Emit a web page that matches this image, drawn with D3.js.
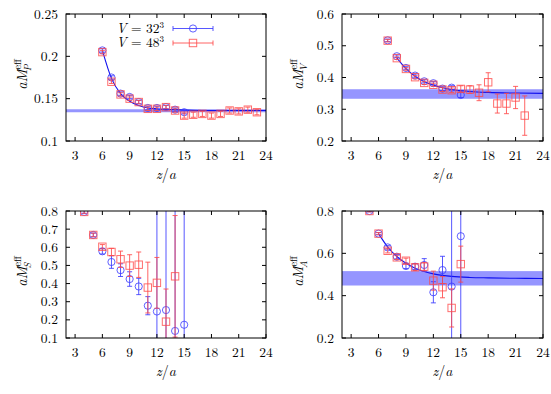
<!DOCTYPE html>
<html>
<head>
<meta charset="utf-8">
<script src="https://cdn.jsdelivr.net/npm/d3@7"></script>
<style>
  body { margin: 0; background: #fff; }
</style>
</head>
<body>
<div id="chart"></div>
<script>
// shared x axis
var zTicks = [3, 6, 9, 12, 15, 18, 21, 24];

// P channel
var pZ32 = [6, 7, 8, 9, 10, 11, 12, 13, 14, 15];
var pM32 = [0.207, 0.175, 0.156, 0.152, 0.146, 0.139, 0.139, 0.140, 0.137, 0.134];
var pE32 = [0.002, 0.002, 0.002, 0.002, 0.002, 0.002, 0.002, 0.002, 0.002, 0.002];
var pZ48 = [6, 7, 8, 9, 10, 11, 12, 13, 14, 15, 16, 17, 18, 19, 20, 21, 22, 23];
var pM48 = [0.205, 0.170, 0.155, 0.150, 0.146, 0.138, 0.138, 0.140, 0.136, 0.130, 0.131, 0.132, 0.130, 0.132, 0.136, 0.135, 0.137, 0.134];
var pE48 = [0.002, 0.002, 0.002, 0.002, 0.002, 0.002, 0.002, 0.002, 0.002, 0.003, 0.003, 0.003, 0.003, 0.003, 0.003, 0.003, 0.003, 0.003];
var pFitZ = [6, 7, 8, 9, 10, 11, 12, 14, 17, 24];
var pFitM = [0.207, 0.174, 0.156, 0.147, 0.142, 0.139, 0.138, 0.137, 0.136, 0.136];
var pBand = [0.136, 0.0015];
var pTicks = [0.1, 0.15, 0.2, 0.25];

// V channel
var vZ32 = [7, 8, 9, 10, 11, 12, 13, 14, 15];
var vM32 = [0.517, 0.467, 0.430, 0.406, 0.388, 0.382, 0.365, 0.368, 0.345];
var vE32 = [0.004, 0.004, 0.004, 0.005, 0.005, 0.005, 0.006, 0.006, 0.008];
var vZ48 = [7, 8, 9, 10, 11, 12, 13, 14, 15, 16, 17, 18, 19, 20, 21, 22];
var vM48 = [0.516, 0.461, 0.427, 0.401, 0.383, 0.377, 0.362, 0.360, 0.364, 0.362, 0.352, 0.385, 0.318, 0.318, 0.337, 0.280];
var vE48 = [0.004, 0.004, 0.004, 0.005, 0.005, 0.005, 0.006, 0.007, 0.010, 0.012, 0.025, 0.030, 0.030, 0.032, 0.035, 0.062];
var vFitZ = [8, 9, 10, 11, 12, 13, 14, 16, 18, 21, 24];
var vFitM = [0.462, 0.428, 0.404, 0.387, 0.376, 0.368, 0.362, 0.356, 0.353, 0.351, 0.350];
var vBand = [0.348, 0.015];
var vTicks = [0.2, 0.3, 0.4, 0.5, 0.6];

// S channel
var sZ32 = [4, 5, 6, 7, 8, 9, 10, 11, 12, 13, 14, 15];
var sM32 = [0.795, 0.668, 0.578, 0.519, 0.474, 0.425, 0.384, 0.278, 0.246, 0.254, 0.139, 0.173];
var sE32 = [0.008, 0.010, 0.015, 0.035, 0.035, 0.040, 0.045, 0.050, 1.0, 1.0, 1.0, 1.0];
var sZ48 = [4, 5, 6, 7, 8, 9, 10, 11, 12, 13, 14];
var sM48 = [0.795, 0.668, 0.603, 0.574, 0.534, 0.499, 0.504, 0.378, 0.404, 0.190, 0.440];
var sE48 = [0.008, 0.010, 0.012, 0.020, 0.045, 0.060, 0.070, 0.140, 0.140, 0.180, 0.335];
var sTicks = [0.1, 0.2, 0.3, 0.4, 0.5, 0.6, 0.7, 0.8];

// A channel
var aZ32 = [5, 6, 7, 8, 9, 10, 11, 12, 13, 14, 15];
var aM32 = [0.800, 0.693, 0.628, 0.584, 0.540, 0.537, 0.545, 0.416, 0.521, 0.443, 0.681];
var aE32 = [0.004, 0.005, 0.008, 0.010, 0.012, 0.015, 0.030, 0.050, 0.065, 1.0, 1.0];
var aZ48 = [5, 6, 7, 8, 9, 10, 11, 12, 13, 14, 15];
var aM48 = [0.800, 0.693, 0.612, 0.581, 0.565, 0.534, 0.537, 0.471, 0.440, 0.342, 0.549];
var aE48 = [0.004, 0.005, 0.010, 0.010, 0.012, 0.015, 0.020, 0.045, 0.050, 0.090, 0.085];
var aFitZ = [6, 7, 8, 9, 10, 11, 12, 13, 14, 16, 18, 21, 24];
var aFitM = [0.693, 0.630, 0.585, 0.553, 0.530, 0.514, 0.503, 0.496, 0.491, 0.486, 0.484, 0.482, 0.481];
var aBand = [0.482, 0.034];
var aTicks = [0.2, 0.4, 0.6, 0.8];

var blue = "#3a3aff";
var red = "#ff4a4a";
var serif = "'Latin Modern Roman', 'Liberation Serif', serif";

var w = 551, h = 394;
var svg = d3.select("#chart").append("svg")
  .attr("width", w)
  .attr("height", h)
  .attr("font-family", serif);

var panels = [
  { id: "p", sub: "P", x0: 66, x1: 266, y0: 14, y1: 141, dom: [0.1, 0.25], ticks: pTicks,
    s32: [pZ32, pM32, pE32], s48: [pZ48, pM48, pE48], fit: [pFitZ, pFitM], band: pBand, legend: true },
  { id: "v", sub: "V", x0: 342, x1: 543, y0: 14, y1: 141, dom: [0.2, 0.6], ticks: vTicks,
    s32: [vZ32, vM32, vE32], s48: [vZ48, vM48, vE48], fit: [vFitZ, vFitM], band: vBand },
  { id: "s", sub: "S", x0: 66, x1: 266, y0: 211, y1: 338, dom: [0.1, 0.8], ticks: sTicks,
    s32: [sZ32, sM32, sE32], s48: [sZ48, sM48, sE48] },
  { id: "a", sub: "A", x0: 342, x1: 543, y0: 211, y1: 338, dom: [0.2, 0.8], ticks: aTicks,
    s32: [aZ32, aM32, aE32], s48: [aZ48, aM48, aE48], fit: [aFitZ, aFitM], band: aBand }
];

function drawSeries(g, x, y, s, color, shape) {
  var pts = s[0].map(function (z, i) { return { z: z, m: s[1][i], e: s[2][i] }; });
  var eb = g.append("g").attr("stroke", color).attr("stroke-width", 1).attr("stroke-opacity", 0.85);
  pts.forEach(function (d) {
    var xx = x(d.z), yt = y(d.m + d.e), yb = y(d.m - d.e);
    eb.append("line").attr("x1", xx).attr("x2", xx).attr("y1", yt).attr("y2", yb);
    eb.append("line").attr("x1", xx - 2.5).attr("x2", xx + 2.5).attr("y1", yt).attr("y2", yt);
    eb.append("line").attr("x1", xx - 2.5).attr("x2", xx + 2.5).attr("y1", yb).attr("y2", yb);
  });
  drawMarkers(g, pts.map(function (d) { return [x(d.z), y(d.m)]; }), color, shape);
}

function drawMarkers(g, xy, color, shape) {
  xy.forEach(function (p) {
    if (shape === "circle") {
      g.append("circle").attr("cx", p[0]).attr("cy", p[1]).attr("r", 3.6)
        .attr("fill", "none").attr("stroke", color).attr("stroke-opacity", 0.8);
    } else {
      g.append("rect").attr("x", p[0] - 3.7).attr("y", p[1] - 3.7)
        .attr("width", 7.4).attr("height", 7.4)
        .attr("fill", "none").attr("stroke", color).attr("stroke-opacity", 0.8);
    }
  });
}

panels.forEach(function (pn) {
  var x = d3.scaleLinear().domain([2, 24]).range([pn.x0, pn.x1]);
  var y = d3.scaleLinear().domain(pn.dom).range([pn.y1, pn.y0]);
  var g = svg.append("g");

  svg.append("clipPath").attr("id", "clip-" + pn.id)
    .append("rect").attr("x", pn.x0).attr("y", pn.y0)
    .attr("width", pn.x1 - pn.x0).attr("height", pn.y1 - pn.y0);

  var inner = g.append("g").attr("clip-path", "url(#clip-" + pn.id + ")");

  if (pn.band) {
    inner.append("rect")
      .attr("x", pn.x0).attr("width", pn.x1 - pn.x0)
      .attr("y", y(pn.band[0] + pn.band[1]))
      .attr("height", Math.max(3, y(pn.band[0] - pn.band[1]) - y(pn.band[0] + pn.band[1])))
      .attr("fill", "#8a8aff").attr("fill-opacity", 0.9);
  }
  if (pn.fit) {
    var line = d3.line()
      .x(function (d) { return x(d[0]); })
      .y(function (d) { return y(d[1]); })
      .curve(d3.curveMonotoneX);
    inner.append("path")
      .datum(pn.fit[0].map(function (z, i) { return [z, pn.fit[1][i]]; }))
      .attr("d", line)
      .attr("fill", "none").attr("stroke", "#1010ee").attr("stroke-width", 1.1);
  }
  drawSeries(inner, x, y, pn.s32, blue, "circle");
  drawSeries(inner, x, y, pn.s48, red, "square");

  // frame with inward ticks on all sides
  g.append("rect").attr("x", pn.x0).attr("y", pn.y0)
    .attr("width", pn.x1 - pn.x0).attr("height", pn.y1 - pn.y0)
    .attr("fill", "none").attr("stroke", "#000").attr("stroke-width", 1);

  var ax = g.append("g").attr("stroke", "#000");
  zTicks.forEach(function (t) {
    ax.append("line").attr("x1", x(t)).attr("x2", x(t)).attr("y1", pn.y1).attr("y2", pn.y1 - 4);
    ax.append("line").attr("x1", x(t)).attr("x2", x(t)).attr("y1", pn.y0).attr("y2", pn.y0 + 4);
    g.append("text").attr("x", x(t)).attr("y", pn.y1 + 19)
      .attr("text-anchor", "middle").attr("font-size", 13.5).text(t);
  });
  pn.ticks.forEach(function (t) {
    ax.append("line").attr("x1", pn.x0).attr("x2", pn.x0 + 4).attr("y1", y(t)).attr("y2", y(t));
    ax.append("line").attr("x1", pn.x1).attr("x2", pn.x1 - 4).attr("y1", y(t)).attr("y2", y(t));
    g.append("text").attr("x", pn.x0 - 8).attr("y", y(t) + 4.5)
      .attr("text-anchor", "end").attr("font-size", 13.5).text(String(t));
  });

  // x label
  var xl = g.append("text").attr("x", (pn.x0 + pn.x1) / 2).attr("y", pn.y1 + 38)
    .attr("text-anchor", "middle").attr("font-size", 14);
  xl.append("tspan").attr("font-style", "italic").text("z");
  xl.append("tspan").text("/");
  xl.append("tspan").attr("font-style", "italic").text("a");

  // y label
  var cy = (pn.y0 + pn.y1) / 2 - 3;
  var yl = g.append("text")
    .attr("transform", "translate(" + (pn.x0 - 39) + "," + cy + ") rotate(-90)")
    .attr("text-anchor", "middle").attr("font-size", 14.5);
  yl.append("tspan").attr("font-style", "italic").text("aM");
  yl.append("tspan").attr("font-size", 10).attr("dy", -6).text("eff");
  yl.append("tspan").attr("font-size", 10).attr("font-style", "italic")
    .attr("dx", -12).attr("dy", 10).text(pn.sub);

  if (pn.legend) {
    var rows = [["32", blue, "circle", 28.5], ["48", red, "square", 43]];
    rows.forEach(function (r) {
      var t = g.append("text").attr("x", 164).attr("y", r[3] + 4)
        .attr("text-anchor", "end").attr("font-size", 13.5);
      t.append("tspan").attr("font-style", "italic").text("V");
      t.append("tspan").text(" = " + r[0]);
      t.append("tspan").attr("font-size", 9).attr("dy", -5).text("3");
      var lg = g.append("g").attr("stroke", r[1]).attr("stroke-opacity", 0.85);
      lg.append("line").attr("x1", 173).attr("x2", 213).attr("y1", r[3]).attr("y2", r[3]);
      lg.append("line").attr("x1", 173).attr("x2", 173).attr("y1", r[3] - 2.5).attr("y2", r[3] + 2.5);
      lg.append("line").attr("x1", 213).attr("x2", 213).attr("y1", r[3] - 2.5).attr("y2", r[3] + 2.5);
      drawMarkers(g, [[193, r[3]]], r[1], r[2]);
    });
  }
});
</script>
</body>
</html>
